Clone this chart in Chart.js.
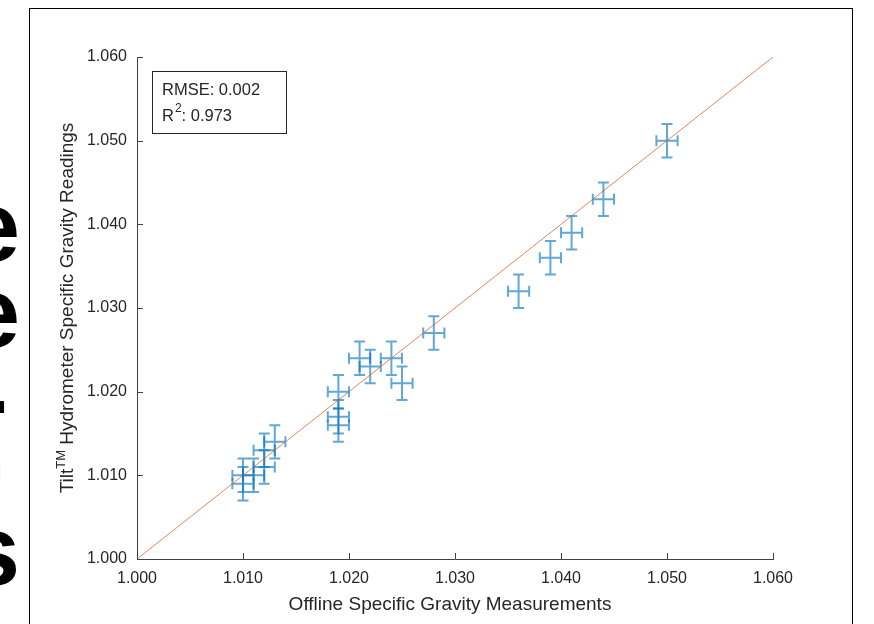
<!DOCTYPE html>
<html>
<head>
<meta charset="utf-8">
<script src="https://cdn.jsdelivr.net/npm/chart.js@4.4.1/dist/chart.umd.min.js"></script>
<style>
  html, body { margin: 0; padding: 0; background: #fff; }
  #wrap { position: relative; width: 874px; height: 624px; overflow: hidden; }
  #chCalib { position: absolute; left: 0; top: 0; }
  #frame { position: absolute; left: 29px; top: 8px; width: 822px; height: 640px;
           border: 1px solid #000; pointer-events: none; }
  #cut { position: absolute; left: 0; top: 0; width: 21px; height: 624px; overflow: hidden; }
  #cut div { position: absolute; right: 1px; font: bold 100px "Liberation Sans", Arial, sans-serif;
             line-height: 1; color: #000; }
</style>
</head>
<body>
<div id="wrap">
  <canvas id="chCalib" width="874" height="624"></canvas>
  <div id="cut">
    <div style="top:176px">e</div>
    <div style="top:262px">e</div>
    <div style="top:348px;right:13px">-</div>
    <div style="top:413px;right:17px">-</div>
    <div style="top:500px">s</div>
  </div>
  <div id="frame"></div>
</div>
<script>
/* Tilt hydrometer vs offline SG calibration plot */

// offline measurement (x) and Tilt reading (y)
var offline = [1.010, 1.010, 1.011, 1.012, 1.012, 1.013,
               1.019, 1.019, 1.019, 1.021, 1.022, 1.024, 1.025, 1.028,
               1.036, 1.039, 1.041, 1.044, 1.050];
var tilt    = [1.010, 1.009, 1.010, 1.011, 1.013, 1.014,
               1.020, 1.017, 1.016, 1.024, 1.023, 1.024, 1.021, 1.027,
               1.032, 1.036, 1.039, 1.043, 1.050];

// error bar half widths
var xErr = 0.001;
var yErr = 0.002;

// 1:1 reference line
var refLine = [1.000, 1.060];

// tick labels
var tickValues = [1.000, 1.010, 1.020, 1.030, 1.040, 1.050, 1.060];

var stats = { rmse: '0.002', r2: '0.973' };

var axisColor = '#404040';
var textColor = '#262626';
var barColor = 'rgba(0,114,189,0.62)';
var fontFam = '"Liberation Sans", Arial, sans-serif';

// error bars, drawn under the line
var errorBars = {
  id: 'errorBars',
  beforeDatasetsDraw: function(chart) {
    var ctx = chart.ctx, xs = chart.scales.x, ys = chart.scales.y;
    var cap = 5.5;
    ctx.save();
    ctx.strokeStyle = barColor;
    ctx.lineWidth = 2;
    for (var i = 0; i < offline.length; i++) {
      var px = xs.getPixelForValue(offline[i]);
      var py = ys.getPixelForValue(tilt[i]);
      var x0 = xs.getPixelForValue(offline[i] - xErr);
      var x1 = xs.getPixelForValue(offline[i] + xErr);
      var y0 = ys.getPixelForValue(tilt[i] - yErr);
      var y1 = ys.getPixelForValue(tilt[i] + yErr);
      ctx.beginPath();
      ctx.moveTo(px, y0); ctx.lineTo(px, y1);
      ctx.moveTo(px - cap, y0); ctx.lineTo(px + cap, y0);
      ctx.moveTo(px - cap, y1); ctx.lineTo(px + cap, y1);
      ctx.moveTo(x0, py); ctx.lineTo(x1, py);
      ctx.moveTo(x0, py - cap); ctx.lineTo(x0, py + cap);
      ctx.moveTo(x1, py - cap); ctx.lineTo(x1, py + cap);
      ctx.stroke();
    }
    ctx.restore();
  }
};

// inward ticks, axis titles and the stats box
var decorations = {
  id: 'decorations',
  afterDraw: function(chart) {
    var ctx = chart.ctx, a = chart.chartArea;
    var xs = chart.scales.x, ys = chart.scales.y;
    var tl = 6;
    ctx.save();
    ctx.strokeStyle = axisColor;
    ctx.lineWidth = 1;
    ctx.beginPath();
    xs.ticks.forEach(function(t) {
      var p = Math.round(xs.getPixelForValue(t.value)) + 0.5;
      ctx.moveTo(p, a.bottom); ctx.lineTo(p, a.bottom - tl);
    });
    ys.ticks.forEach(function(t) {
      var p = Math.round(ys.getPixelForValue(t.value)) + 0.5;
      ctx.moveTo(a.left, p); ctx.lineTo(a.left + tl, p);
    });
    ctx.stroke();

    ctx.fillStyle = textColor;
    ctx.font = '19px ' + fontFam;
    ctx.textAlign = 'center';
    ctx.textBaseline = 'middle';
    ctx.fillText('Offline Specific Gravity Measurements', 450, 605);

    // rotated y title with superscript TM
    ctx.save();
    ctx.translate(68, (a.top + a.bottom) / 2);
    ctx.rotate(-Math.PI / 2);
    var big = '19px ' + fontFam;
    var small = '13px ' + fontFam;
    var p1 = 'Tilt', p2 = 'TM', p3 = ' Hydrometer Specific Gravity Readings';
    ctx.font = big; var w1 = ctx.measureText(p1).width, w3 = ctx.measureText(p3).width;
    ctx.font = small; var w2 = ctx.measureText(p2).width;
    var sx = -(w1 + w2 + w3) / 2;
    ctx.textAlign = 'left';
    ctx.font = big; ctx.fillText(p1, sx, 0);
    ctx.font = small; ctx.fillText(p2, sx + w1, -7);
    ctx.font = big; ctx.fillText(p3, sx + w1 + w2, 0);
    ctx.restore();

    // stats box
    ctx.strokeStyle = '#262626';
    ctx.lineWidth = 1;
    ctx.strokeRect(152.5, 71.5, 134, 62);
    ctx.textAlign = 'left';
    ctx.font = '16.5px ' + fontFam;
    ctx.fillText('RMSE: ' + stats.rmse, 162, 90);
    ctx.fillText('R', 162, 116);
    var rw = ctx.measureText('R').width;
    ctx.font = '12px ' + fontFam;
    ctx.fillText('2', 162 + rw + 1, 109);
    var sw = ctx.measureText('2').width;
    ctx.font = '16.5px ' + fontFam;
    ctx.fillText(': ' + stats.r2, 162 + rw + sw + 1, 116);
    ctx.restore();
  }
};

function fixTicks(scale) {
  scale.ticks = tickValues.map(function(v) { return { value: v }; });
}

var chCalib = document.getElementById('chCalib');
if (chCalib) {
  new Chart(chCalib, {
    type: 'scatter',
    data: {
      datasets: [
        {
          label: 'points',
          data: offline.map(function(v, i) { return { x: v, y: tilt[i] }; }),
          pointRadius: 0,
          showLine: false
        },
        {
          label: '1:1',
          data: refLine.map(function(v) { return { x: v, y: v }; }),
          showLine: true,
          borderColor: 'rgba(217,83,25,0.7)',
          borderWidth: 1,
          pointRadius: 0,
          fill: false
        }
      ]
    },
    options: {
      responsive: false,
      animation: false,
      events: [],
      layout: { padding: { left: 0, top: 57, right: 101, bottom: 0 } },
      plugins: { legend: { display: false }, tooltip: { enabled: false } },
      scales: {
        x: {
          type: 'linear', min: 1.0, max: 1.06,
          afterBuildTicks: fixTicks,
          afterFit: function(s) { s.height = 65; },
          grid: { display: false, drawTicks: false },
          border: { display: true, color: axisColor, width: 1 },
          ticks: {
            padding: 10, maxRotation: 0, color: textColor,
            font: { family: fontFam, size: 16 },
            callback: function(v) { return v.toFixed(3); }
          }
        },
        y: {
          type: 'linear', min: 1.0, max: 1.06,
          afterBuildTicks: fixTicks,
          afterFit: function(s) { s.width = 137; },
          grid: { display: false, drawTicks: false },
          border: { display: true, color: axisColor, width: 1 },
          ticks: {
            padding: 10, color: textColor,
            font: { family: fontFam, size: 16 },
            callback: function(v) { return v.toFixed(3); }
          }
        }
      }
    },
    plugins: [errorBars, decorations]
  });
}
</script>
</body>
</html>
